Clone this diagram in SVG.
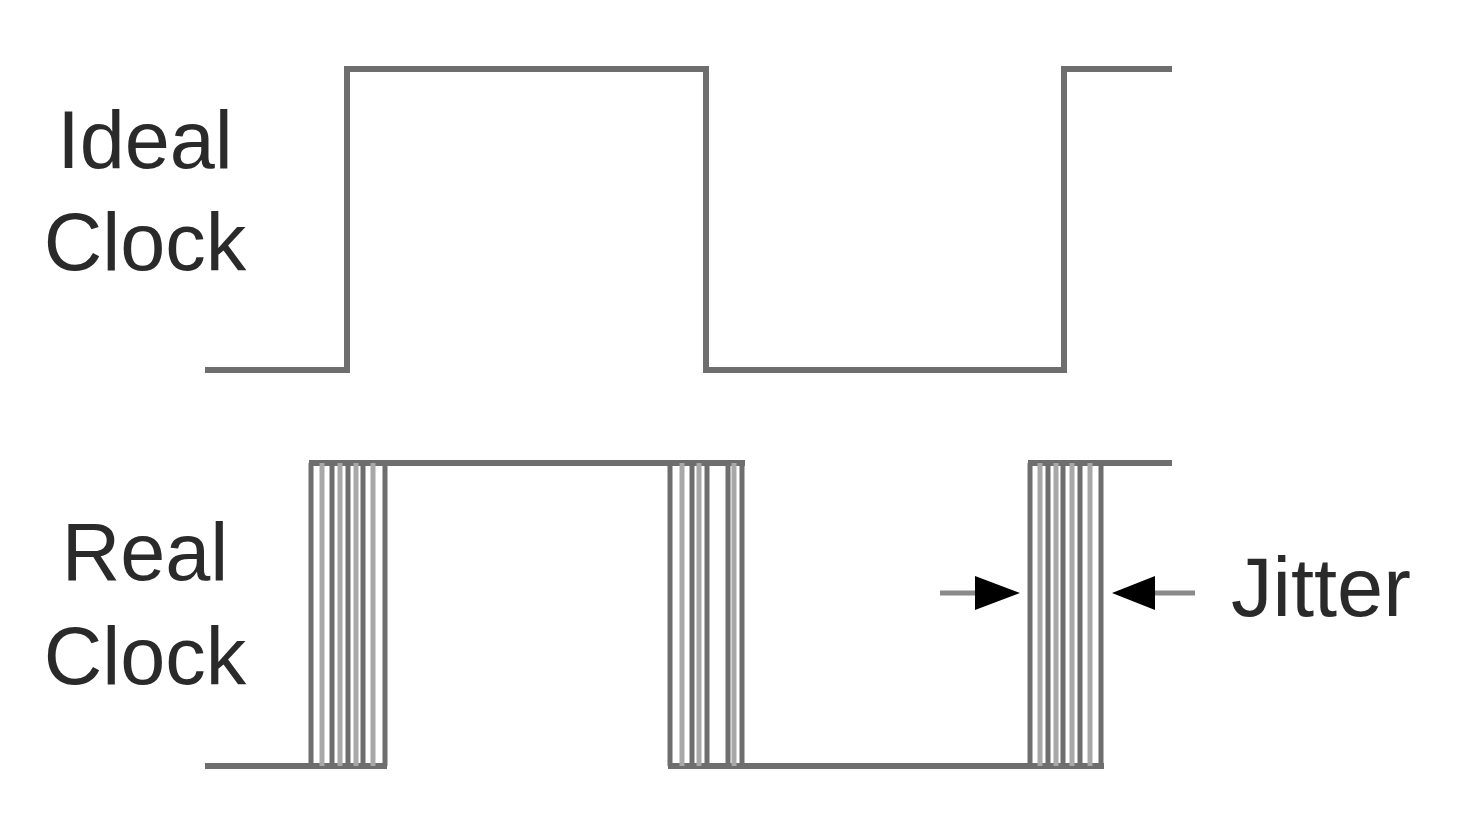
<svg xmlns="http://www.w3.org/2000/svg" width="1465" height="820" viewBox="0 0 1465 820">
<defs>
<style>
.sig{fill:none;stroke:#6e6e6e;stroke-width:6;stroke-linejoin:miter}
.edge{stroke:#6e6e6e;stroke-width:5}
.edge2{stroke:#a8a8a8;stroke-width:5}
.lbl{font-family:"Liberation Sans",Arial,sans-serif;font-size:81px;fill:#2a2a2a;text-anchor:middle}
.arr{stroke:#8a8a8a;stroke-width:5}
</style>
</defs>
<rect width="1465" height="820" fill="#ffffff"/>
<g id="ideal-label"><text class="lbl" x="145" y="168">Ideal</text><text class="lbl" x="145" y="270">Clock</text></g>
<g id="real-label"><text class="lbl" x="145" y="580">Real</text><text class="lbl" x="145" y="684">Clock</text></g>
<g id="jitter-label"><text class="lbl" x="1321" y="616" style="font-size:83px">Jitter</text></g>
<g id="ideal-clock">
<polyline class="sig" points="205,370 347,370 347,69 706,69 706,370 1064,370 1064,69 1172,69"/>
</g>
<g id="real-clock">
<line class="sig" x1="205" y1="766" x2="387" y2="766"/>
<line class="sig" x1="309" y1="463" x2="745" y2="463"/>
<line class="sig" x1="668" y1="766" x2="1104" y2="766"/>
<line class="sig" x1="1028" y1="463" x2="1172" y2="463"/>
<g id="edge1">
<line class="edge2" x1="322" y1="463" x2="322" y2="766"/>
<line class="edge2" x1="340" y1="463" x2="340" y2="766"/>
<line class="edge2" x1="356" y1="463" x2="356" y2="766"/>
<line class="edge2" x1="373" y1="463" x2="373" y2="766"/>
<line class="edge" x1="311" y1="463" x2="311" y2="766"/>
<line class="edge" x1="332" y1="463" x2="332" y2="766"/>
<line class="edge" x1="348" y1="463" x2="348" y2="766"/>
<line class="edge" x1="363" y1="463" x2="363" y2="766"/>
<line class="edge" x1="385" y1="463" x2="385" y2="766"/>
</g>
<g id="edge2">
<line class="edge2" x1="682" y1="463" x2="682" y2="766"/>
<line class="edge2" x1="699" y1="463" x2="699" y2="766"/>
<line class="edge2" x1="734" y1="463" x2="734" y2="766"/>
<line class="edge" x1="670" y1="463" x2="670" y2="766"/>
<line class="edge" x1="692" y1="463" x2="692" y2="766"/>
<line class="edge" x1="707" y1="463" x2="707" y2="766"/>
<line class="edge" x1="728" y1="463" x2="728" y2="766"/>
<line class="edge" x1="742" y1="463" x2="742" y2="766"/>
</g>
<g id="edge3">
<line class="edge2" x1="1040" y1="463" x2="1040" y2="766"/>
<line class="edge2" x1="1056" y1="463" x2="1056" y2="766"/>
<line class="edge2" x1="1072" y1="463" x2="1072" y2="766"/>
<line class="edge2" x1="1090" y1="463" x2="1090" y2="766"/>
<line class="edge" x1="1030" y1="463" x2="1030" y2="766"/>
<line class="edge" x1="1048" y1="463" x2="1048" y2="766"/>
<line class="edge" x1="1063" y1="463" x2="1063" y2="766"/>
<line class="edge" x1="1080" y1="463" x2="1080" y2="766"/>
<line class="edge" x1="1101" y1="463" x2="1101" y2="766"/>
</g>
</g>
<g id="connectors">
<line class="arr" x1="940" y1="593" x2="980" y2="593"/>
<polygon points="975,576 1020,593 975,610" fill="#000"/>
<line class="arr" x1="1150" y1="593" x2="1195" y2="593"/>
<polygon points="1155,576 1112,593 1155,610" fill="#000"/>
</g>
</svg>
